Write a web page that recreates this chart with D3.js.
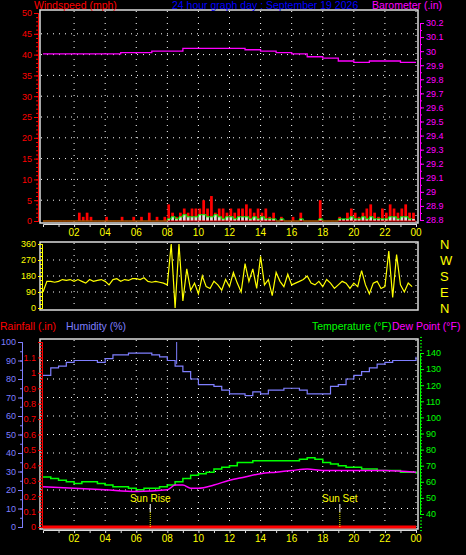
<!DOCTYPE html>
<html><head><meta charset="utf-8">
<script src="https://cdn.jsdelivr.net/npm/d3@7"></script>
<style>body{margin:0;background:#000}svg{display:block}text{font-family:"Liberation Sans",sans-serif;font-size:10px}</style>
</head><body><svg id="c" width="466" height="555"></svg>
<script>
const hourTicks=[2,4,6,8,10,12,14,16,18,20,22,24];
const hourLabels=["02","04","06","08","10","12","14","16","18","20","22","00"];
const windGust=[0,0,0,0,0,0,0,0, 0,2,1,2,1,0,0,0, 1,0,0,0,1,0,0,1, 0,1,0,2,0,1,0,1,
 4,2,1,2,3,2,3,3, 3,5,3,6,2,3,3,2, 3,2,3,3,4,3,2,3, 2,3,1,2,0,1,0,0,
 1,0,2,0,0,0,0,5, 0,0,0,0,1,0,2,3, 2,1,2,3,4,2,1,3, 2,4,3,2,3,4,2,2];
const windAvg=[0,0,0,0,0,0,0,0, 0,0,0,0,0,0,0,0, 0,0,0,0,0,0,0,0, 0,0,0,0,0,0,0,0,
 0.5,1,0.5,1,1.5,1,1,1, 1.5,1.5,1,1,1.5,1,0.5,1, 1,0.5,1,1,1,0.5,1,0.5, 1,0.5,0.5,0.5,0,0.5,0,0,
 0,0,0.5,0,0,0,0,0.5, 0,0,0,0,0.5,0.5,0.5,1, 0.5,0.5,1,0.5,1,0.5,0.5,0.5, 0.5,1,1,0.5,1,1,0.5,0.5];
const windDir=[90,150,150,145,150,160,155,160, 150,160,150,140,160,150,155,160, 150,130,160,165,150,160,155,165,
 165,160,170,150,145,150,145,140, 130,360,0,360,40,220,100,140, 80,180,120,110,150,130,100,160,
 120,200,140,90,250,150,220,110, 290,130,160,70,200,150,120,190, 130,140,150,160,180,140,130,150,
 120,160,140,110,130,150,140,110, 140,120,210,130,80,140,150,110, 120,320,60,300,130,90,140,120];
const baroHours=[0,1,2,3,4,5,6,7,8,9,10,11,12,13,14,15,16,17,18,19,20,21,22,23,24];
const baro=[29.98,29.98,29.98,29.98,29.98,29.99,29.99,30.0,30.0,30.02,30.02,30.02,30.02,30.01,30.0,29.99,29.98,29.96,29.95,29.93,29.92,29.93,29.93,29.92,29.92];
const halfHours=d3.range(0,24.01,0.5);
const humidity=[82,86,87,89,90,90,90,89,91,93,93,94,94,94,93,92,90,87,84,80,77,77,76,74,72,72,71,73,72,74,74,75,75,74,72,72,72,76,77,80,82,84,86,88,89,90,90,90,92];
const temperature=[63,62,61,60,59,60,60,59,58,57,57,56,55,56,56,57,58,60,62,64,65,66,68,69,70,72,72,73,73,73,73,73,73,74,75,74,72,71,70,69,69,68,68,67,67,67,66,66,65];
const dewHours=[0,2,4,6,8,8.5,9,9.5,10,11,12,13,14,15,16,17,18,20,22,24];
const dewPoint=[57,56,55,54,55,58,58,56,56,58,61,63,65,66,67,68,67,67,67,66];
const rainHours=[0,24], rainfall=[0,0];

const svg=d3.select("#c");
const x=d3.scaleLinear().domain([0,24]).range([43,416]);
const dot="1,5";
function grid(y0,y1,ys){
  hourTicks.forEach(h=>svg.append("line").attr("x1",x(h)).attr("x2",x(h)).attr("y1",y0).attr("y2",y1).attr("stroke","#fff").attr("stroke-dasharray",dot));
  ys.forEach(v=>svg.append("line").attr("x1",41).attr("x2",416).attr("y1",v).attr("y2",v).attr("stroke","#fff").attr("stroke-dasharray",dot));
}
function frame(y0,y1){svg.append("rect").attr("x",40).attr("y",y0).attr("width",378).attr("height",y1-y0).attr("fill","none").attr("stroke","#ddd").attr("stroke-width",1.5);}
function xAxis(y,col){
  const g=svg.append("g").attr("transform",`translate(0,${y})`);
  g.call(d3.axisBottom(x).tickValues(d3.range(1,25)).tickSize(3).tickFormat(""));
  g.selectAll("line,path").attr("stroke","#ddd");
  hourTicks.forEach((h,i)=>svg.append("text").attr("x",x(h)).attr("y",y+12).attr("text-anchor","middle").attr("fill",col).text(hourLabels[i]));
}
function yAxis(scale,xpos,ticks,fmt,col,minor,side){
  const ax=side==="r"?d3.axisRight(scale):d3.axisLeft(scale);
  const g=svg.append("g").attr("transform",`translate(${xpos},0)`).call(ax.tickValues(ticks).tickSize(4).tickPadding(2).tickFormat(fmt));
  g.selectAll("path,line").attr("stroke",col);g.selectAll("text").attr("fill",col).style("font-size","9px").style("font-family","Liberation Sans");
  if(minor){const g2=svg.append("g").attr("transform",`translate(${xpos},0)`).call((side==="r"?d3.axisRight(scale):d3.axisLeft(scale)).tickValues(minor).tickSize(2).tickFormat(""));g2.selectAll("path,line").attr("stroke",col);}
}
// ---- top panel
const yW=d3.scaleLinear().domain([0,50]).range([221,13]);
const yB=d3.scaleLinear().domain([28.8,30.2]).range([220,23]);
grid(11,222,d3.range(5,50,5).map(yW));
frame(10,223);
const bw=(x(0.25)-x(0))*0.7;
svg.append("g").selectAll("rect").data(windGust).join("rect").attr("x",(d,i)=>x(i*0.25)).attr("width",bw).attr("y",d=>yW(d)).attr("height",d=>yW(0)-yW(d)).attr("fill","#f00");
svg.append("g").selectAll("rect").data(windAvg).join("rect").attr("x",(d,i)=>x(i*0.25)).attr("width",bw).attr("y",d=>yW(d)).attr("height",d=>yW(0)-yW(d)).attr("fill","#ddd");
svg.append("path").datum(windAvg).attr("d",d3.line().x((d,i)=>x(i*0.25)).y(d=>yW(d)).curve(d3.curveStepAfter)).attr("fill","none").attr("stroke","#0f0");
svg.append("line").attr("x1",x(0)).attr("x2",x(24)).attr("y1",yW(0)).attr("y2",yW(0)).attr("stroke","#f00");
svg.append("path").datum(baro).attr("d",d3.line().x((d,i)=>x(baroHours[i])).y(d=>yB(d)).curve(d3.curveStepAfter)).attr("fill","none").attr("stroke","#f0f").attr("stroke-width",1.3);
yAxis(yW,38,d3.range(0,51,5),d3.format("d"),"#f00",d3.range(0,51,1));
yAxis(yB,420,d3.range(28.8,30.21,0.1),v=>(+v.toFixed(1)).toString(),"#f0f",d3.range(28.8,30.21,0.05),"r");
xAxis(224,"#ff0");
svg.append("text").attr("x",34).attr("y",9).attr("fill","#f00").style("font-size","10.5px").text("Windspeed (mph)");
svg.append("text").attr("x",172).attr("y",9).attr("fill","#00f").style("font-size","10.5px").text("24 hour graph day : September 19 2026");
svg.append("text").attr("x",372).attr("y",9).attr("fill","#f0f").style("font-size","10.5px").text("Barometer (.in)");
// ---- middle panel
const yD=d3.scaleLinear().domain([0,360]).range([308,244]);
grid(243,309,[90,180,270].map(yD));
frame(242,310);
svg.append("path").datum(windDir).attr("d",d3.line().x((d,i)=>x(i*0.25)).y(d=>yD(d))).attr("fill","none").attr("stroke","#ff0").attr("stroke-width",1.2);
yAxis(yD,42,[0,90,180,270,360],d3.format("d"),"#ff0",d3.range(0,361,22.5));
["N","W","S","E","N"].forEach((t,i)=>svg.append("text").attr("x",440).attr("y",249+i*16).attr("fill","#ff0").style("font-size","13px").text(t));
// ---- bottom panel
const yH=d3.scaleLinear().domain([0,100]).range([527,342]);
const yR=d3.scaleLinear().domain([0,1.2]).range([527,342]);
const yT=d3.scaleLinear().domain([40,140]).range([514,353]);
grid(340,528,d3.range(10,100,10).map(yH));
frame(339,529);
svg.append("path").datum(humidity).attr("d",d3.line().x((d,i)=>x(halfHours[i])).y(d=>yH(d)).curve(d3.curveStepAfter)).attr("fill","none").attr("stroke","#7f7fff").attr("stroke-width",1.2);
svg.append("line").attr("x1",x(8.6)).attr("x2",x(8.6)).attr("y1",yH(88)).attr("y2",yH(100)).attr("stroke","#7f7fff");
svg.append("path").datum(temperature).attr("d",d3.line().x((d,i)=>x(halfHours[i])).y(d=>yT(d)).curve(d3.curveStepAfter)).attr("fill","none").attr("stroke","#0f0").attr("stroke-width",1.5);
svg.append("path").datum(dewPoint).attr("d",d3.line().x((d,i)=>x(dewHours[i])).y(d=>yT(d)).curve(d3.curveMonotoneX)).attr("fill","none").attr("stroke","#f0f").attr("stroke-width",1.5);
svg.append("path").datum(rainfall).attr("d",d3.line().x((d,i)=>x(rainHours[i])).y(d=>yR(d))).attr("fill","none").attr("stroke","#f00").attr("stroke-width",3);
[[6.9,"Sun Rise"],[19.1,"Sun Set"]].forEach(([h,t])=>{
  svg.append("line").attr("x1",x(h)).attr("x2",x(h)).attr("y1",504).attr("y2",512).attr("stroke","#fff");
  svg.append("line").attr("x1",x(h)).attr("x2",x(h)).attr("y1",512).attr("y2",528).attr("stroke","#ff0").attr("stroke-dasharray","1,1");
  svg.append("text").attr("x",x(h)).attr("y",502).attr("text-anchor","middle").attr("fill","#ff0").text(t);
});
yAxis(yH,22,d3.range(0,101,10),d3.format("d"),"#7f7fff",d3.range(0,101,5));
yAxis(yR,42,d3.range(0,1.21,0.1),v=>{const s=(+v.toFixed(1)).toString();return s==="1.2"?"":s;},"#f00",d3.range(0,1.21,0.02));
yAxis(yT,420,d3.range(40,141,10),d3.format("d"),"#0f0",d3.range(30,151,2),"r");
xAxis(530,"#ff0");
svg.append("text").attr("x",0).attr("y",330).attr("fill","#f00").style("font-size","10.5px").text("Rainfall (.in)");
svg.append("text").attr("x",66).attr("y",330).attr("fill","#7f7fff").style("font-size","10.5px").text("Humidity (%)");
svg.append("text").attr("x",312).attr("y",330).attr("fill","#0f0").style("font-size","10.5px").text("Temperature (°F)");
svg.append("text").attr("x",392).attr("y",330).attr("fill","#f0f").style("font-size","10.5px").text("Dew Point (°F)");
</script></body></html>
